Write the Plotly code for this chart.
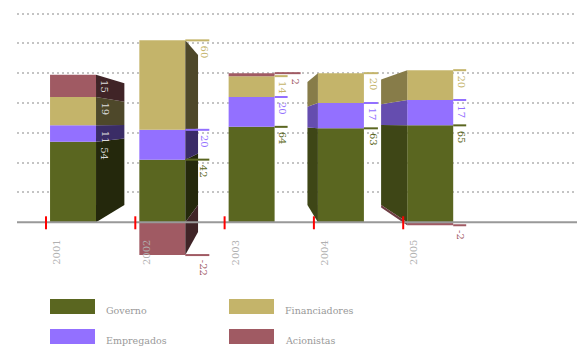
import plotly.graph_objects as go

# ---------------- data ----------------
years = ["2001", "2002", "2003", "2004", "2005"]
series_names = ["Governo", "Empregados", "Financiadores", "Acionistas"]
governo = [54, 42, 64, 63, 65]
empregados = [11, 20, 20, 17, 17]
financiadores = [19, 60, 14, 20, 20]
acionistas = [15, -22, 2, 0, -2]
grid_values = [20, 40, 60, 80, 100, 120, 140]

# ---------------- style ----------------
colors = ["#5a6620", "#9370ff", "#c4b46a", "#a05a63"]
PAGE_OFF = 8                      # browser body margin
W, H = 585 - PAGE_OFF, 360 - PAGE_OFF
ML, MR, MT, MB = 9, 0, 0, 93      # plot area on page: x 17..585, y 8..267
x_range = [-0.325, 6.036]
y_range = [-30.0, 143.7]
PX_X = (W - ML - MR) / (x_range[1] - x_range[0])
PX_Y = (H - MT - MB) / (y_range[1] - y_range[0])
bar_offset = 0.045
bar_width = 0.515
vp_x, vp_y, depth_k = 2.374, 66.0, 0.825
label_dx_px = [9, 19, 8, 9, 8]
label_on_side = [True, False, False, False, False]
LABEL_FONT = "DejaVu Serif"


def shade(hexc, f):
    r, g, b = int(hexc[1:3], 16), int(hexc[3:5], 16), int(hexc[5:7], 16)
    return "rgb(%d,%d,%d)" % (r * f, g * f, b * f)


values = [governo, empregados, financiadores, acionistas]
xpos = list(range(len(years)))

fig = go.Figure()

# front faces
for name, vals, col in zip(series_names, values, colors):
    fig.add_trace(go.Bar(
        x=[i + bar_offset + bar_width / 2 for i in xpos], y=vals, width=bar_width,
        name=name, marker=dict(color=col, line=dict(width=0)), showlegend=False,
    ))

# stacking extents
segments = []  # (i, series index, y0, y1)
for i in xpos:
    pos, neg = 0.0, 0.0
    for s, vals in enumerate(values):
        v = vals[i]
        if v >= 0:
            segments.append((i, s, pos, pos + v))
            pos += v
        else:
            segments.append((i, s, neg, neg + v))
            neg += v

# side faces (one-point perspective)
for (i, s, y0, y1) in segments:
    if y0 == y1:
        continue
    left = i + bar_offset
    right = left + bar_width
    if vp_x > right:
        xe, f = right, 0.4
    elif vp_x < left:
        xe, f = left, 0.69
    else:
        continue
    xb = vp_x + (xe - vp_x) * depth_k
    yb0 = vp_y + (y0 - vp_y) * depth_k
    yb1 = vp_y + (y1 - vp_y) * depth_k
    fig.add_trace(go.Scatter(
        x=[xe, xe, xb, xb, xe], y=[y0, y1, yb1, yb0, y0], mode="lines",
        fill="toself", fillcolor=shade(colors[s], f), line=dict(width=0),
        hoverinfo="skip", showlegend=False,
    ))

# value labels and leader lines
annotations = []
for (i, s, y0, y1) in segments:
    v = values[s][i]
    if v == 0:
        continue
    right = i + bar_offset + bar_width
    dx = label_dx_px[i] + (13 if 0 < v < 5 else 0)
    yl = y1
    on_side = label_on_side[i]
    if not on_side:
        fig.add_trace(go.Scatter(
            x=[right, right + (dx + 5) / PX_X], y=[yl, yl], mode="lines",
            line=dict(color=colors[s], width=2), hoverinfo="skip", showlegend=False,
        ))
    annotations.append(dict(
        x=right, y=yl, xref="x", yref="y", text=str(v), showarrow=False,
        textangle=90, xanchor="center", yanchor="top", xshift=dx, yshift=-3,
        font=dict(family=LABEL_FONT, size=10,
                  color="#dcdcdc" if on_side else colors[s]),
    ))

# year labels
for i, yr in zip(xpos, years):
    annotations.append(dict(
        x=i, y=0, xref="x", yref="y", text=yr, showarrow=False, textangle=-90,
        xanchor="center", yanchor="top", xshift=11, yshift=-16,
        font=dict(family=LABEL_FONT, size=10, color="#b0b0b0"),
    ))

shapes = []
# baseline
shapes.append(dict(type="line", xref="paper", yref="y", x0=0, x1=1, y0=0, y1=0,
                   line=dict(color="#999999", width=2), layer="above"))
# red ticks
for i in xpos:
    shapes.append(dict(type="line", xref="x", yref="y", x0=i, x1=i, y0=4.0, y1=-4.7,
                       line=dict(color="#ff0000", width=2), layer="above"))


# custom legend (page pixel -> paper)
def pxx(px):
    return (px - PAGE_OFF - ML) / (W - ML - MR)


def pxy(py):
    return (H - MB - (py - PAGE_OFF)) / (H - MT - MB)


legend_pos = [(50, 299), (50, 329), (229, 299), (229, 329)]
for name, col, (lx, ly) in zip(series_names, colors, legend_pos):
    shapes.append(dict(type="rect", xref="paper", yref="paper",
                       x0=pxx(lx), x1=pxx(lx + 45), y0=pxy(ly), y1=pxy(ly + 15),
                       fillcolor=col, line=dict(width=0)))
    annotations.append(dict(
        x=pxx(lx + 54), y=pxy(ly + 11), xref="paper", yref="paper", text=name,
        showarrow=False, xanchor="left", yanchor="middle",
        font=dict(family="DejaVu Serif", size=9.5, color="#999999"),
    ))

fig.update_layout(
    width=W, height=H, autosize=False,
    margin=dict(l=ML, r=MR, t=MT, b=MB, pad=0),
    paper_bgcolor="white", plot_bgcolor="white",
    barmode="relative", showlegend=False,
    xaxis=dict(range=x_range, showgrid=False, zeroline=False, showticklabels=False,
               showline=False, ticks="", fixedrange=True),
    yaxis=dict(range=y_range, tickmode="array", tickvals=grid_values, showgrid=True,
               gridcolor="#c4c4c4", gridwidth=2, griddash="2px,3px",
               zeroline=False, showticklabels=False, ticks="", fixedrange=True),
    shapes=shapes, annotations=annotations,
)

fig.write_html("out.html")
